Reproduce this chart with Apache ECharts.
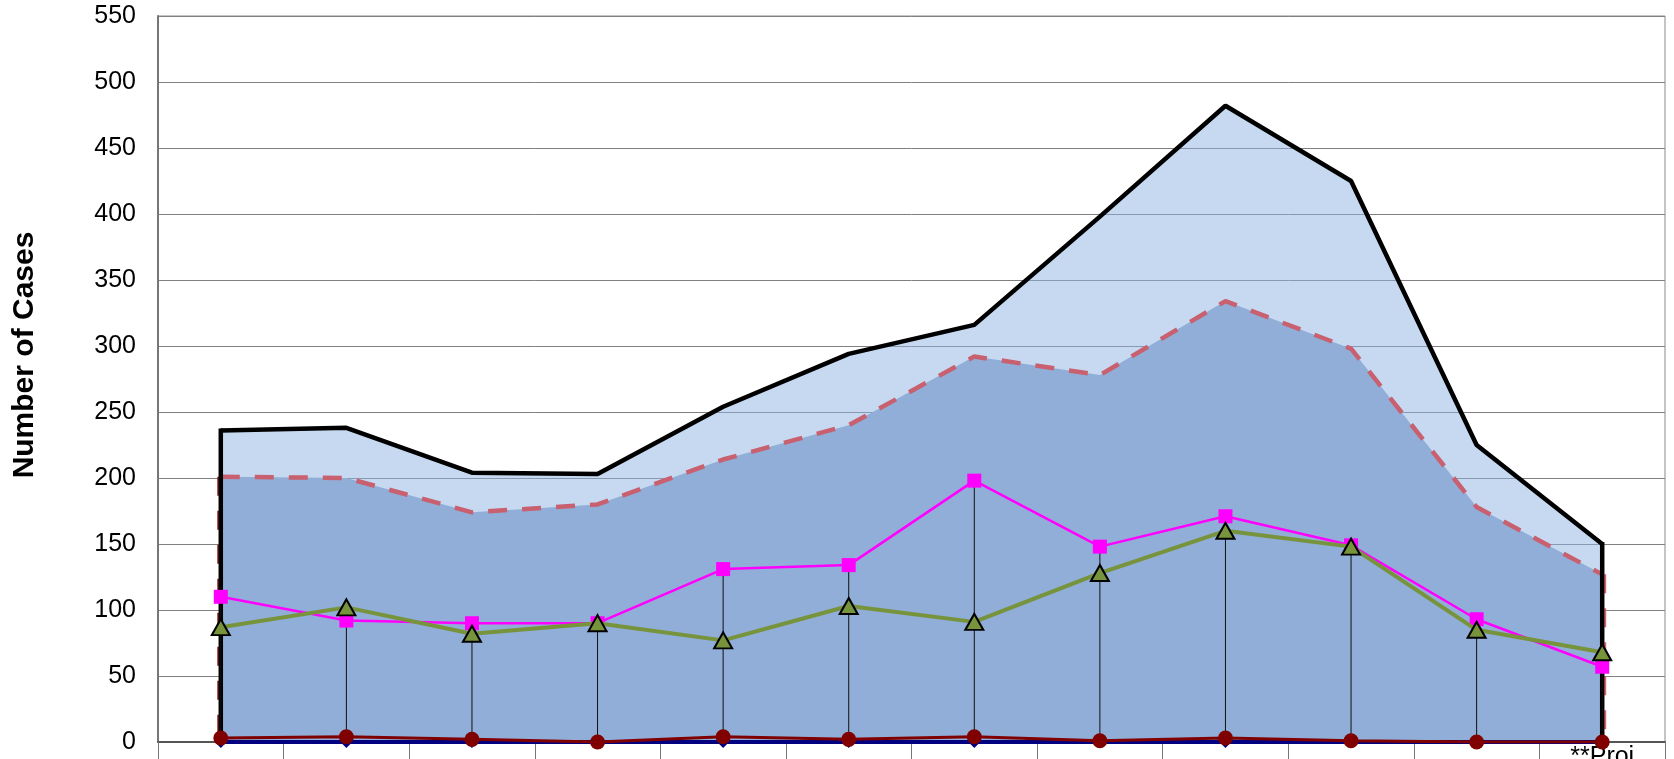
<!DOCTYPE html>
<html lang="en">
<head>
    <meta charset="utf-8">
    <title>Number of Cases</title>
    <script src="https://cdn.jsdelivr.net/npm/echarts@6/dist/echarts.min.js"></script>
    <style>
        html, body { margin: 0; padding: 0; background: #fff; }
        #main { width: 1674px; height: 759px; }
    </style>
</head>
<body>
    <div id="main"></div>
    <script type="text/javascript">
        // categories (only the last label peeks in under the axis)
        var categories = ['1999', '2000', '2001', '2002', '2003', '2004', '2005', '2006', '2007', '2008', '2009', '**Proj\n2010'];
        var yTicks = { min: 0, max: 550, step: 50 };

        // series values
        var totalCases     = [236, 238, 204, 203, 254, 294, 316, 398, 482, 425, 225, 150];
        var projectedCases = [201, 200, 174, 180, 214, 240, 292, 278, 334, 298, 178, 127];
        var pinkSeries     = [110, 92, 90, 90, 131, 134, 198, 148, 171, 149, 93, 57];
        var greenSeries    = [87, 102, 82, 90, 77, 103, 91, 128, 160, 148, 85, 68];
        var redSeries      = [3, 4, 2, 0, 4, 2, 4, 1, 3, 1, 0, 0];
        var navySeries     = [0, 0, 0, 0, 0, 0, 0, 0, 0, 0, 0, 0];

        var font = 'Liberation Sans, Arial, sans-serif';
        var last = categories.length - 1;

        // drop lines go from the highest line point down to the axis
        var dropData = categories.map(function (c, i) {
            return [i, Math.max(pinkSeries[i], greenSeries[i], redSeries[i], navySeries[i])];
        });
        // vertical outline of the two areas at both ends
        var edgeData = [
            [0, totalCases[0], projectedCases[0]],
            [last, totalCases[last], projectedCases[last]]
        ];

        var myChart = echarts.init(document.getElementById('main'));
        myChart.setOption({
            animation: false,
            grid: {
                left: 158, right: 9, top: 16, bottom: 17,
                containLabel: false,
                outerBoundsMode: 'none',
                show: true,
                borderColor: '#8a8a8a',
                borderWidth: 1
            },
            xAxis: {
                type: 'category',
                data: categories,
                boundaryGap: true,
                axisLine: { show: true, lineStyle: { color: '#555', width: 2 } },
                axisTick: { show: true, interval: 0, length: 22, lineStyle: { color: '#777', width: 1 } },
                axisLabel: {
                    interval: 0,
                    color: '#000',
                    fontFamily: font,
                    fontSize: 25,
                    lineHeight: 29,
                    verticalAlign: 'bottom',
                    margin: 59
                },
                splitLine: { show: false }
            },
            yAxis: {
                type: 'value',
                min: yTicks.min,
                max: yTicks.max,
                interval: yTicks.step,
                name: 'Number of Cases',
                nameLocation: 'middle',
                nameRotate: 90,
                nameGap: 118,
                nameTextStyle: {
                    color: '#000',
                    fontFamily: font,
                    fontSize: 30,
                    fontWeight: 'bold',
                    padding: [0, 0, 0, 48]
                },
                axisLine: { show: true, lineStyle: { color: '#777', width: 2 } },
                axisTick: { show: false },
                axisLabel: { color: '#000', fontFamily: font, fontSize: 25, margin: 22 },
                splitLine: { show: true, lineStyle: { color: '#808080', width: 1 } }
            },
            series: [
                {
                    name: 'Total',
                    type: 'line',
                    z: 1,
                    data: totalCases,
                    symbol: 'none',
                    lineStyle: { color: '#000', width: 4.5 },
                    areaStyle: { color: 'rgba(141,179,226,0.5)', opacity: 1 }
                },
                {
                    name: 'Projected',
                    type: 'line',
                    z: 2,
                    data: projectedCases,
                    symbol: 'none',
                    lineStyle: { color: '#C8606F', width: 4.5, type: [19, 15] },
                    areaStyle: { color: '#90AED7', opacity: 1 }
                },
                {
                    name: 'edges',
                    type: 'custom',
                    z: 3,
                    silent: true,
                    data: edgeData,
                    encode: { x: 0, y: 1 },
                    renderItem: function (params, api) {
                        var i = api.value(0);
                        var top = api.coord([i, api.value(1)]);
                        var mid = api.coord([i, api.value(2)]);
                        var bot = api.coord([i, 0]);
                        var side = i === 0 ? -2.5 : 3;
                        var edgeColor = i === 0 ? '#8B1A1A' : '#E0606F';
                        return {
                            type: 'group',
                            children: [
                                {
                                    type: 'line',
                                    shape: { x1: mid[0] + side, y1: mid[1], x2: bot[0] + side, y2: bot[1] },
                                    style: { stroke: edgeColor, lineWidth: 2, lineDash: [19, 15] }
                                },
                                {
                                    type: 'line',
                                    shape: { x1: top[0], y1: top[1] - 2, x2: bot[0], y2: bot[1] },
                                    style: { stroke: '#000', lineWidth: 4.5 }
                                }
                            ]
                        };
                    }
                },
                {
                    name: 'drop lines',
                    type: 'custom',
                    z: 3,
                    silent: true,
                    data: dropData,
                    encode: { x: 0, y: 1 },
                    renderItem: function (params, api) {
                        var top = api.coord([api.value(0), api.value(1)]);
                        var bot = api.coord([api.value(0), 0]);
                        return {
                            type: 'line',
                            shape: { x1: top[0], y1: top[1], x2: bot[0], y2: bot[1] },
                            style: { stroke: '#111', lineWidth: 1 }
                        };
                    }
                },
                {
                    name: 'Navy',
                    type: 'line',
                    z: 4,
                    data: navySeries,
                    symbol: 'diamond',
                    symbolSize: 12,
                    itemStyle: { color: '#000080' },
                    lineStyle: { color: '#000080', width: 4 }
                },
                {
                    name: 'Red',
                    type: 'line',
                    z: 5,
                    data: redSeries,
                    symbol: 'circle',
                    symbolSize: 15,
                    itemStyle: { color: '#800000' },
                    lineStyle: { color: '#800000', width: 3 }
                },
                {
                    name: 'Pink',
                    type: 'line',
                    z: 6,
                    data: pinkSeries,
                    symbol: 'rect',
                    symbolSize: 14,
                    itemStyle: { color: '#FF00FF' },
                    lineStyle: { color: '#FF00FF', width: 2.5 }
                },
                {
                    name: 'Green',
                    type: 'line',
                    z: 7,
                    data: greenSeries,
                    symbol: 'triangle',
                    symbolSize: [18, 16],
                    itemStyle: { color: '#77933C', borderColor: '#000', borderWidth: 2 },
                    lineStyle: { color: '#77933C', width: 4 }
                }
            ]
        });
    </script>
</body>
</html>
